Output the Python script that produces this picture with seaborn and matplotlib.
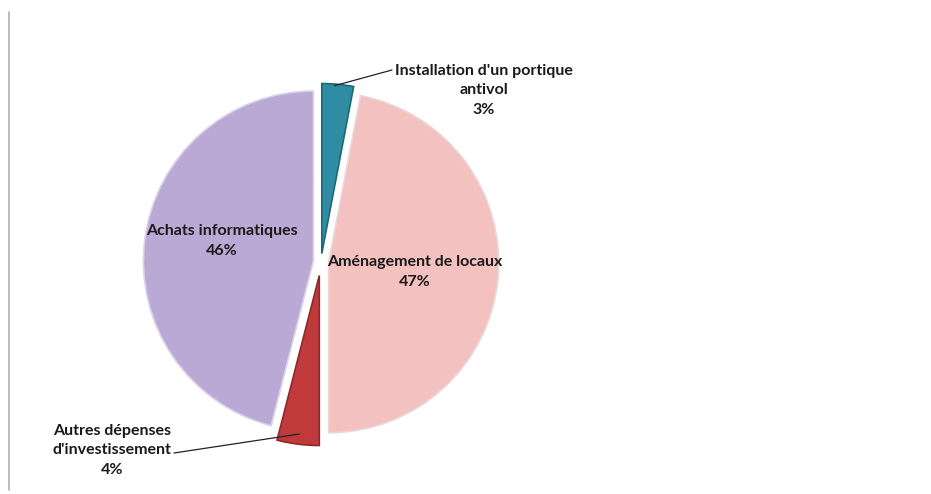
import numpy as np
import matplotlib
matplotlib.use("Agg")
import matplotlib.pyplot as plt
from matplotlib.lines import Line2D
import seaborn as sns

# ---- data ----
categories = ["Installation d'un portique\nantivol", "Aménagement de locaux",
              "Autres dépenses\nd'investissement", "Achats informatiques"]
values = [3, 47, 4, 46]
pct_labels = ["3%", "47%", "4%", "46%"]
colors = ["#2F8CA3", "#F3C1C0", "#C0393B", "#BBA9D5"]
explode = [0.05, 0.045, 0.08, 0.045]

sns.set_theme(style="white")
plt.rcParams['font.family'] = ['Lato', 'DejaVu Sans']

W, H = 931, 494
fig = plt.figure(figsize=(W / 100, H / 100), dpi=100)
ax = fig.add_axes([0, 0, 1, 1])

S = 170.0           # pixels per data unit
cx, cy = 321, 262   # pie centre in pixels (from top-left)

def P(px, py):
    return ((px - cx) / S, (cy - py) / S)

wedges, _ = ax.pie(values, colors=colors, explode=explode, startangle=90,
                   counterclock=False, radius=1.0,
                   wedgeprops=dict(edgecolor="#F4F4F4", linewidth=1.2))
edge_cols = ["#1F6878", "#EBD6D6", "#8E2A2C", "#DCD3EA"]
for w, ec in zip(wedges, edge_cols):
    w.set_edgecolor(ec)

ax.set_xlim(-cx / S, (W - cx) / S)
ax.set_ylim(-(H - cy) / S, cy / S)
ax.set_aspect("equal")
ax.axis("off")

fs = 11.5
tkw = dict(fontsize=fs, fontweight="bold", color="#1A1A1A", ha="center",
           va="center", linespacing=1.5)

# Installation label
ax.text(*P(484, 90), categories[0] + "\n" + pct_labels[0], **tkw)
w0 = wedges[0]
a_ang = np.deg2rad(w0.theta1 + 0.6 * (w0.theta2 - w0.theta1))
a = (w0.center[0] + 0.99 * np.cos(a_ang), w0.center[1] + 0.99 * np.sin(a_ang))
ax.add_line(Line2D([a[0], P(392, 70)[0]], [a[1], P(392, 70)[1]],
                   color="#222222", lw=0.9))

# Aménagement label
ax.text(*P(415, 272), categories[1] + "\n" + pct_labels[1], **tkw)

# Autres label
ax.text(*P(112, 450), categories[2] + "\n" + pct_labels[2], **tkw)
w2 = wedges[2]
b_ang = np.deg2rad((w2.theta1 + w2.theta2) / 2)
b = (w2.center[0] + 0.94 * np.cos(b_ang), w2.center[1] + 0.94 * np.sin(b_ang))
ax.add_line(Line2D([P(174, 453)[0], b[0]], [P(174, 453)[1], b[1]],
                   color="#222222", lw=0.9))

# Achats label
ax.text(*P(222, 241), categories[3] + "\n" + pct_labels[3], **tkw)

# left border line of the chart area
fig.add_artist(Line2D([8.5 / W, 8.5 / W], [1 - 12 / H, 1 - 490 / H],
                      color="#B0B0B0", lw=1.2))

fig.savefig("out.png", dpi=100, facecolor="white")
